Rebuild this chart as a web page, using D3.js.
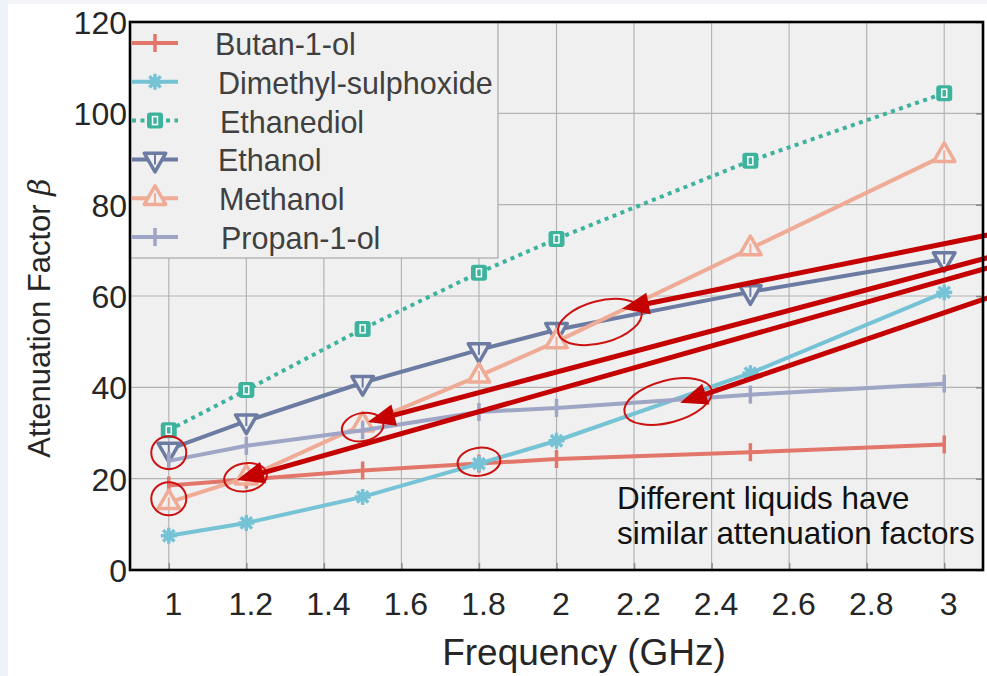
<!DOCTYPE html>
<html>
<head>
<meta charset="utf-8">
<script src="https://cdn.jsdelivr.net/npm/d3@7"></script>
<style>
  body { margin: 0; background: #fff; }
  svg { display: block; font-family: "Liberation Sans", Arial, sans-serif; }
</style>
</head>
<body>
<svg id="chart"></svg>
<script>
// data
var freq = [1, 1.2, 1.5, 1.8, 2, 2.5, 3];
var butanol    = [18.5, 19.8, 21.8, 23.3, 24.3, 25.8, 27.5];
var dmso       = [7.5, 10.3, 16.0, 23.3, 28.3, 43.1, 60.8];
var ethanediol = [30.6, 39.4, 52.8, 65.1, 72.5, 89.6, 104.4];
var ethanol    = [26.4, 32.6, 41.0, 48.2, 52.6, 60.9, 68.1];
var methanol   = [14.8, 20.2, 31.8, 42.5, 50.0, 70.4, 90.8];
var propanol   = [23.9, 27.2, 30.6, 34.6, 35.5, 38.4, 40.8];
var seriesNames = ["Butan-1-ol", "Dimethyl-sulphoxide", "Ethanediol", "Ethanol", "Methanol", "Propan-1-ol"];
var xTicks = [1, 1.2, 1.4, 1.6, 1.8, 2, 2.2, 2.4, 2.6, 2.8, 3];
var yTicks = [0, 20, 40, 60, 80, 100, 120];
var noteLines = ["Different liquids have", "similar attenuation factors"];

// set the dimensions and margins of the graph
var W = 987, H = 676;
var margin = {top: 22, right: 4, bottom: 106, left: 130},
    width = W - margin.left - margin.right,
    height = H - margin.top - margin.bottom;

var svg = d3.select("#chart").attr("width", W).attr("height", H);

// page background strips
svg.append("rect").attr("width", W).attr("height", H).attr("fill", "#fff");
svg.append("rect").attr("width", W).attr("height", 4).attr("fill", "#f3f5f8");
svg.append("rect").attr("width", 8).attr("height", H).attr("fill", "#eef3f9");

var g = svg.append("g")
    .attr("transform", "translate(" + margin.left + "," + margin.top + ")");

var x = d3.scaleLinear().domain([0.9, 3.1]).range([0, width]);
var y = d3.scaleLinear().domain([0, 120]).range([height, 0]);

// plot background
g.append("rect").attr("width", width).attr("height", height).attr("fill", "#f0f0f0");

// grid
g.append("g").selectAll("line").data(xTicks).enter().append("line")
    .attr("x1", function(d) { return x(d); }).attr("x2", function(d) { return x(d); })
    .attr("y1", 0).attr("y2", height)
    .attr("stroke", "#b4b4b4").attr("stroke-width", 1.2);
g.append("g").selectAll("line").data(yTicks).enter().append("line")
    .attr("y1", function(d) { return y(d); }).attr("y2", function(d) { return y(d); })
    .attr("x1", 0).attr("x2", width)
    .attr("stroke", "#b4b4b4").attr("stroke-width", 1.2);

// axes (labels only, ticks drawn inward)
var xAxis = g.append("g")
    .attr("transform", "translate(0," + height + ")")
    .call(d3.axisBottom(x).tickValues(xTicks).tickSize(-7).tickPadding(22).tickFormat(d3.format("")));
var yAxis = g.append("g")
    .call(d3.axisLeft(y).tickValues(yTicks).tickSize(0).tickPadding(3));
g.append("g")
    .attr("transform", "translate(" + width + ",0)")
    .call(d3.axisLeft(y).tickValues(yTicks).tickSize(7).tickFormat(""));
[xAxis, yAxis].forEach(function(a) {
  a.select(".domain").remove();
  a.selectAll("text").attr("fill", "#262626").style("font-size", "32px")
      .style("font-family", "'Liberation Sans', Arial, sans-serif");
});
g.selectAll(".tick line").attr("stroke", "#8a8a8a").attr("stroke-width", 1.5);
xAxis.selectAll("text").attr("dx", 4);
yAxis.selectAll("text").attr("dy", "0.36em");

// series
var series = [
  {name: seriesNames[0], values: butanol,    color: "#e3766b", marker: "bar"},
  {name: seriesNames[1], values: dmso,       color: "#76c3d6", marker: "star"},
  {name: seriesNames[2], values: ethanediol, color: "#3db39e", marker: "square", dash: "4,4.5"},
  {name: seriesNames[3], values: ethanol,    color: "#6c7ba1", marker: "tridown"},
  {name: seriesNames[4], values: methanol,   color: "#efab95", marker: "triup"},
  {name: seriesNames[5], values: propanol,   color: "#9fa5c4", marker: "bar"}
];

var line = d3.line()
    .x(function(d, i) { return x(freq[i]); })
    .y(function(d) { return y(d); });

function drawMarker(sel, type, color) {
  if (type === "bar") {
    sel.append("line").attr("y1", -9).attr("y2", 9)
        .attr("stroke", color).attr("stroke-width", 3.5);
  } else if (type === "star") {
    [0, 45, 90, 135].forEach(function(a) {
      sel.append("line").attr("y1", -8).attr("y2", 8)
          .attr("transform", "rotate(" + a + ")")
          .attr("stroke", color).attr("stroke-width", 3.5);
    });
    sel.append("circle").attr("r", 4.5).attr("fill", color);
  } else if (type === "square") {
    sel.append("rect").attr("x", -8).attr("y", -8).attr("width", 16).attr("height", 16)
        .attr("rx", 3).attr("fill", color);
    sel.append("rect").attr("x", -2.5).attr("y", -4).attr("width", 5).attr("height", 8)
        .attr("fill", "none").attr("stroke", "#fff").attr("stroke-width", 1.5);
  } else {
    sel.append("path")
        .attr("d", d3.symbol().type(d3.symbolTriangle).size(200))
        .attr("transform", type === "tridown" ? "rotate(180)" : null)
        .attr("fill", "#f0f0f0").attr("stroke", color).attr("stroke-width", 3.5)
        .attr("stroke-linejoin", "round");
    sel.append("line").attr("y1", -5).attr("y2", 5)
        .attr("stroke", color).attr("stroke-width", 2);
  }
}

series.forEach(function(s) {
  g.append("path")
      .datum(s.values)
      .attr("d", line)
      .attr("fill", "none")
      .attr("stroke", s.color)
      .attr("stroke-width", 4)
      .attr("stroke-dasharray", s.dash || null);
  g.append("g").selectAll("g").data(s.values).enter().append("g")
      .attr("transform", function(d, i) { return "translate(" + x(freq[i]) + "," + y(d) + ")"; })
      .each(function() { drawMarker(d3.select(this), s.marker, s.color); });
});

// legend
var legend = g.append("g");
legend.append("rect").attr("x", 0).attr("y", 0).attr("width", 368).attr("height", 236)
    .attr("fill", "#f0f0f0").attr("stroke", "#a8a8a8").attr("stroke-width", 1.2);
var textX = [85, 88, 90, 88, 89, 91];
series.forEach(function(s, i) {
  var ly = 21 + i * 38.8;
  var row = legend.append("g").attr("transform", "translate(0," + ly + ")");
  row.append("line").attr("x1", 2).attr("x2", 48)
      .attr("stroke", s.color).attr("stroke-width", 4)
      .attr("stroke-dasharray", s.dash || null);
  drawMarker(row.append("g").attr("transform", "translate(25,0)"), s.marker, s.color);
  row.append("text").attr("x", textX[i]).attr("y", 12)
      .attr("fill", "#404040").style("font-size", "30.5px").text(s.name);
});

// annotations: arrows and circles
var arrows = [
  {from: [3.144, 73.9], to: [2.169, 57.2]},
  {from: [3.144, 69.1], to: [1.514, 32.4]},
  {from: [3.144, 66.9], to: [1.176, 19.7]},
  {from: [3.144, 60.5], to: [2.319, 36.6]}
];
var circles = [
  {c: [2.112, 54.3], rx: 43, ry: 21, rot: -15},
  {c: [2.288, 36.9], rx: 45, ry: 21, rot: -15},
  {c: [1.5, 31.3], rx: 21, ry: 14, rot: -12},
  {c: [1.198, 20.3], rx: 21.5, ry: 14, rot: -10},
  {c: [1.0, 25.7], rx: 17.5, ry: 16.5, rot: 0},
  {c: [1.0, 15.6], rx: 17.5, ry: 16.5, rot: 0},
  {c: [1.8, 23.7], rx: 21.5, ry: 14, rot: -8}
];
var red = "#c40000";
circles.forEach(function(e) {
  g.append("ellipse")
      .attr("transform", "translate(" + x(e.c[0]) + "," + y(e.c[1]) + ") rotate(" + e.rot + ")")
      .attr("rx", e.rx).attr("ry", e.ry)
      .attr("fill", "none").attr("stroke", "#cc1111").attr("stroke-width", 2);
});
arrows.forEach(function(a) {
  var x0 = x(a.from[0]), y0 = y(a.from[1]), x1 = x(a.to[0]), y1 = y(a.to[1]);
  var ang = Math.atan2(y1 - y0, x1 - x0);
  var len = 27, half = 11;
  var bx = x1 - len * Math.cos(ang), by = y1 - len * Math.sin(ang);
  g.append("line").attr("x1", x0).attr("y1", y0)
      .attr("x2", x1 - (len - 4) * Math.cos(ang)).attr("y2", y1 - (len - 4) * Math.sin(ang))
      .attr("stroke", red).attr("stroke-width", 5);
  g.append("path")
      .attr("d", "M" + x1 + "," + y1 +
          "L" + (bx - half * Math.sin(ang)) + "," + (by + half * Math.cos(ang)) +
          "L" + (bx + half * Math.sin(ang)) + "," + (by - half * Math.cos(ang)) + "Z")
      .attr("fill", red);
});

// note text
var note = g.append("text").attr("fill", "#111").style("font-size", "31.4px");
noteLines.forEach(function(t, i) {
  note.append("tspan").attr("x", 487).attr("y", 487 + i * 35).text(t);
});

// frame
g.append("rect").attr("width", width).attr("height", height)
    .attr("fill", "none").attr("stroke", "#000").attr("stroke-width", 2.6);

// axis titles
svg.append("text")
    .attr("x", 584).attr("y", 665)
    .attr("text-anchor", "middle").attr("fill", "#262626")
    .style("font-size", "37px")
    .text("Frequency (GHz)");
var yl = svg.append("text")
    .attr("transform", "translate(50,318) rotate(-90)")
    .attr("text-anchor", "middle").attr("fill", "#262626")
    .style("font-size", "31px")
    .text("Attenuation Factor ");
yl.append("tspan").style("font-family", "'DejaVu Serif', serif").style("font-style", "italic")
    .style("font-size", "30px").text("β");
</script>
</body>
</html>
